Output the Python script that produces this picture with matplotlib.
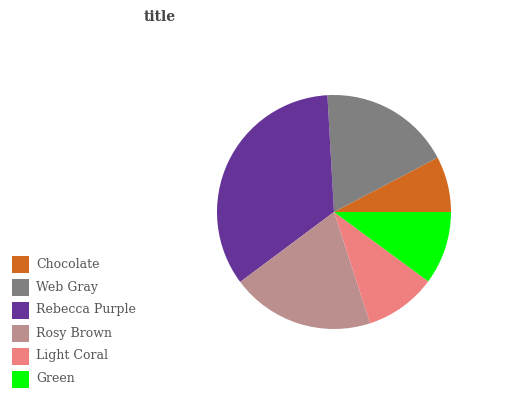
import matplotlib
matplotlib.use("Agg")
import matplotlib.pyplot as plt
from matplotlib.patches import Rectangle

categories = ["Chocolate", "Web Gray", "Rebecca Purple", "Rosy Brown", "Light Coral", "Green"]
values = [7.7, 18.2, 34.3, 19.8, 9.9, 10.1]
colors = ["#D2691E", "#808080", "#663399", "#BC8F8F", "#F08080", "#00FF00"]

W, H = 532, 400
fig = plt.figure(figsize=(W / 100, H / 100), dpi=100)

cx, cy, r = 334, 212, 117
ax = fig.add_axes([(cx - r) / W, (H - cy - r) / H, 2 * r / W, 2 * r / H])
ax.pie(values, colors=colors, startangle=0, counterclock=True,
       wedgeprops=dict(linewidth=0))
ax.set_xlim(-1, 1)
ax.set_ylim(-1, 1)
ax.set_aspect("equal")
ax.axis("off")

fig.text(160 / W, 1 - 17 / H, "title", ha="center", va="center",
         family="DejaVu Serif", fontweight="bold", fontsize=10, color="#444444")

y0 = 264
for i, (cat, col) in enumerate(zip(categories, colors)):
    y = y0 + i * 23
    fig.patches.append(Rectangle((12 / W, 1 - (y + 8.5) / H), 17 / W, 17 / H,
                                 transform=fig.transFigure, facecolor=col,
                                 edgecolor="none"))
    fig.text(36 / W, 1 - y / H, cat, ha="left", va="center",
             family="DejaVu Serif", fontsize=9, color="#555555")

fig.savefig("out.png", dpi=100)
